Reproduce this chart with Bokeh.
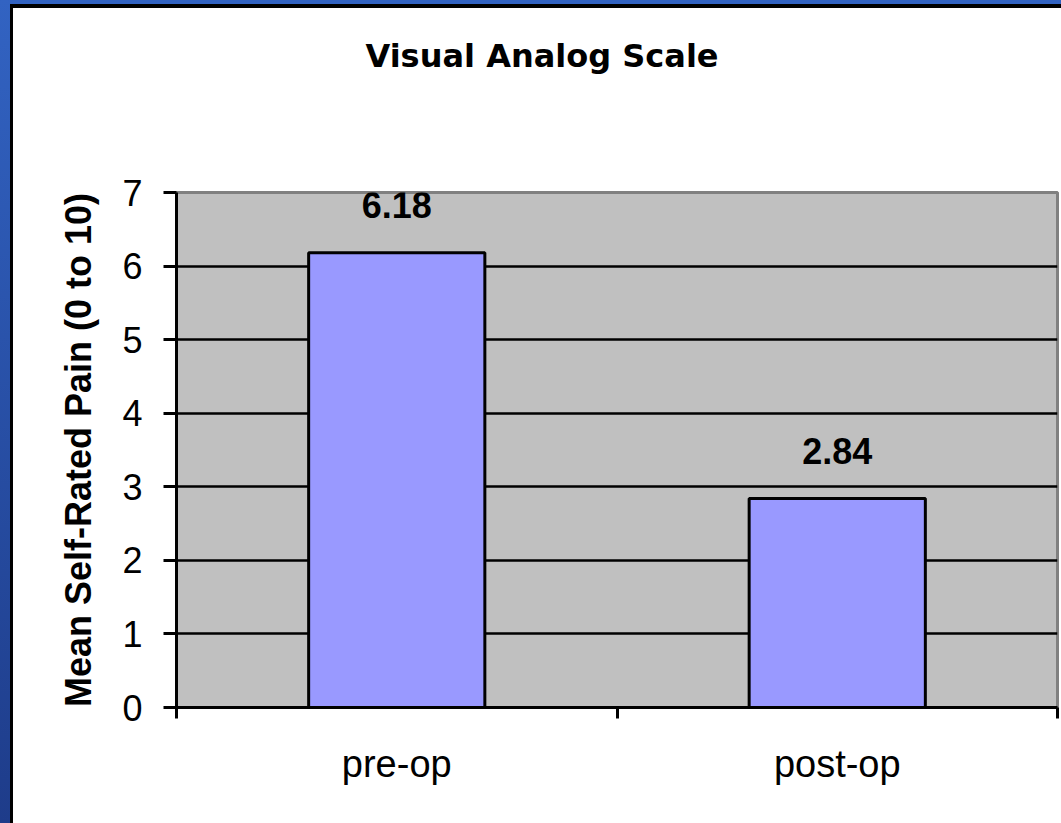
from bokeh.plotting import figure
from bokeh.models import Range1d, FixedTicker, LabelSet, ColumnDataSource, Div
from bokeh.layouts import column, row
from bokeh.core.properties import value
from bokeh.embed import file_html
from bokeh.resources import INLINE

# ---- data ----
categories = ["pre-op", "post-op"]
values = [6.18, 2.84]
value_labels = ["6.18", "2.84"]
y_ticks = [0, 1, 2, 3, 4, 5, 6, 7]
title_text = "Visual Analog Scale"
y_title = "Mean Self-Rated Pain (0 to 10)"

xs = [i + 0.5 for i in range(len(categories))]
src = ColumnDataSource(dict(x=xs, top=values, label=value_labels))

p = figure(width=1048, height=715,
           x_range=Range1d(0, len(categories)), y_range=Range1d(y_ticks[0], y_ticks[-1]),
           output_backend="svg", toolbar_location=None,
           min_border_left=163, min_border_right=4, min_border_top=84, min_border_bottom=116,
           margin=0)

p.background_fill_color = "#C0C0C0"
p.border_fill_color = "white"
p.outline_line_color = "#808080"
p.outline_line_width = 3

p.xgrid.visible = False
p.ygrid.ticker = FixedTicker(ticks=y_ticks[1:-1])
p.ygrid.grid_line_color = "black"
p.ygrid.grid_line_width = 2.5
p.ygrid.grid_line_alpha = 1.0

# y axis
ya = p.yaxis[0]
ya.ticker = FixedTicker(ticks=y_ticks)
ya.axis_line_color = "black"
ya.axis_line_width = 3
ya.major_tick_out = 13
ya.major_tick_in = 0
ya.major_tick_line_width = 3
ya.minor_tick_line_color = None
ya.major_label_text_font = "Liberation Sans"
ya.major_label_text_font_size = "36px"
ya.major_label_text_color = "black"
ya.major_label_standoff = 21
ya.axis_label = y_title
ya.axis_label_text_font = "Liberation Sans"
ya.axis_label_text_font_style = "bold"
ya.axis_label_text_font_size = "36px"
ya.axis_label_text_color = "black"
ya.axis_label_standoff = 20

# x axis
xa = p.xaxis[0]
xa.ticker = FixedTicker(ticks=xs, minor_ticks=list(range(len(categories) + 1)))
xa.major_label_overrides = {x: c for x, c in zip(xs, categories)}
xa.major_tick_line_color = None
xa.major_tick_out = 0
xa.major_tick_in = 0
xa.minor_tick_out = 11
xa.minor_tick_in = 0
xa.minor_tick_line_width = 3
xa.minor_tick_line_color = "black"
xa.axis_line_color = "black"
xa.axis_line_width = 3
xa.major_label_text_font = "Liberation Sans"
xa.major_label_text_font_size = "38px"
xa.major_label_text_color = "black"
xa.major_label_standoff = 24

p.vbar(x="x", top="top", width=0.4, bottom=0, source=src,
       fill_color="#9999FF", line_color="black", line_width=3)

labels = LabelSet(x="x", y="top", text="label", source=src, y_offset=35,
                  text_align="center", text_baseline="alphabetic",
                  text_font=value("Liberation Sans"), text_font_style="bold",
                  text_font_size="36px", text_color="black")
p.add_layout(labels)

title_div = Div(text=title_text, width=1048, height=100, margin=0,
                styles={"background-color": "white", "font-family": "DejaVu Sans",
                        "font-weight": "bold", "font-size": "32px", "color": "black",
                        "text-align": "center", "line-height": "normal",
                        "padding-top": "29px", "padding-left": "10px",
                        "box-sizing": "border-box"})

blue_top = "#3263c2"
left_band = Div(text="", width=10, height=823, margin=0,
                styles={"background": "linear-gradient(to bottom, #3263c2, #1e3c8a)"})
top_band = Div(text="", width=1051, height=4, margin=0,
               styles={"background-color": blue_top})
black_left = Div(text="", width=3, height=819, margin=0,
                 styles={"background-color": "black"})
black_top = Div(text="", width=1048, height=4, margin=0,
                styles={"background-color": "black"})

white_col = column(black_top, title_div, p, spacing=0, margin=0)
inner_row = row(black_left, white_col, spacing=0, margin=0)
right_col = column(top_band, inner_row, spacing=0, margin=0)
outer = row(left_band, right_col, spacing=0, margin=0)

open("out.html", "w").write(file_html(outer, INLINE))
